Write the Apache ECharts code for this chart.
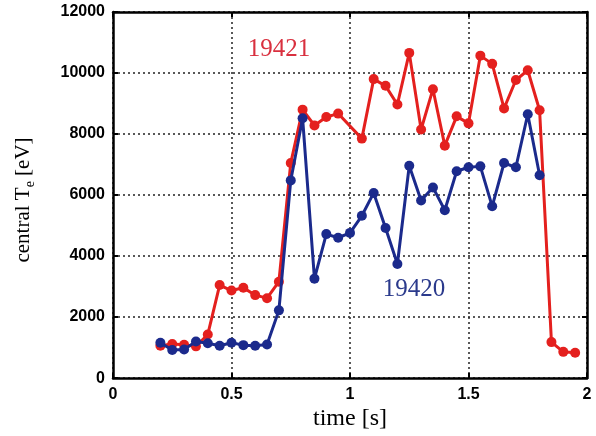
<!DOCTYPE html>
<html>
<head>
<meta charset="utf-8">
<script src="https://cdn.jsdelivr.net/npm/echarts@6/dist/echarts.min.js"></script>
<style>
html,body{margin:0;padding:0;background:#fff;}
#chart{width:596px;height:436px;}
</style>
</head>
<body>
<div id="chart"></div>
<script>
// Shot 19421 (red)
var timeRed = [0.2,0.25,0.3,0.35,0.4,0.45,0.5,0.55,0.6,0.65,0.7,0.75,0.8,0.85,0.9,0.95,1.05,1.1,1.15,1.2,1.25,1.3,1.35,1.4,1.45,1.5,1.55,1.6,1.65,1.7,1.75,1.8,1.85,1.9,1.95];
var teRed = [1060,1120,1090,1040,1430,3050,2870,2960,2720,2620,3160,7050,8800,8280,8560,8670,7850,9800,9580,8970,10660,8150,9470,7620,8580,8350,10570,10300,8840,9770,10090,8780,1180,860,830];
// Shot 19420 (blue)
var timeBlue = [0.2,0.25,0.3,0.35,0.4,0.45,0.5,0.55,0.6,0.65,0.7,0.75,0.8,0.85,0.9,0.95,1.0,1.05,1.1,1.15,1.2,1.25,1.3,1.35,1.4,1.45,1.5,1.55,1.6,1.65,1.7,1.75,1.8];
var teBlue = [1160,920,940,1200,1140,1060,1160,1080,1060,1100,2220,6480,8520,3260,4720,4600,4760,5320,6070,4920,3740,6960,5820,6250,5500,6780,6910,6940,5630,7050,6910,8650,6650];
// Tick labels
var xTicks = ['0','0.5','1','1.5','2'];
var yTicks = ['0','2000','4000','6000','8000','10000','12000'];
// Annotation labels
var labelRed = {text:'19421', t:0.70, v:10780};
var labelBlue = {text:'19420', t:1.27, v:2910};

function pairs(xs, ys){ return xs.map(function(x,i){ return [x, ys[i]]; }); }

var RED = '#e4201e', BLUE = '#1b2a8c';
var tickFont = {fontFamily:'Liberation Sans, Arial, sans-serif', fontWeight:'bold', fontSize:16, color:'#000'};
var serif = 'Liberation Serif, Times New Roman, serif';

var chart = echarts.init(document.getElementById('chart'), null, {renderer:'canvas'});
var frameLine = {show:true, onZero:false, lineStyle:{color:'#000', width:2.5}};
var inTick = {show:true, inside:true, length:5, lineStyle:{color:'#000', width:2}};

chart.setOption({
  backgroundColor:'#fff',
  animation:false,
  grid:{left:113, right:9, top:12, bottom:49, containLabel:false},
  graphic:[{
    type:'text', x:23, y:200, rotation:Math.PI/2,
    style:{
      text:'{a|central T}{s|e}{a| [eV]}', align:'center', verticalAlign:'middle',
      rich:{
        a:{fontFamily:serif, fontSize:21, fill:'#000', lineHeight:28, verticalAlign:'middle'},
        s:{fontFamily:serif, fontSize:14, fill:'#000', lineHeight:14, verticalAlign:'bottom'}
      }
    }
  }],
  xAxis:[{
    type:'value', min:0, max:2, interval:0.5, position:'bottom',
    axisLine:frameLine, axisTick:inTick,
    axisLabel:Object.assign({margin:8, formatter:function(v){ return xTicks[Math.round(v/0.5)]; }}, tickFont),
    splitLine:{show:true, lineStyle:{color:'#222', type:[2,3], width:1.5}},
    name:'time [s]', nameLocation:'middle', nameGap:23,
    nameTextStyle:{fontFamily:serif, fontSize:24, color:'#000'}
  },{
    type:'value', min:0, max:2, interval:0.5, position:'top',
    axisLine:frameLine, axisTick:inTick, axisLabel:{show:false}, splitLine:{show:false}
  }],
  yAxis:[{
    type:'value', min:0, max:12000, interval:2000, position:'left',
    axisLine:frameLine, axisTick:inTick,
    axisLabel:Object.assign({margin:8, formatter:function(v){ return yTicks[Math.round(v/2000)]; }}, tickFont),
    splitLine:{show:true, lineStyle:{color:'#222', type:[2,3], width:1.5}}
  },{
    type:'value', min:0, max:12000, interval:2000, position:'right',
    axisLine:frameLine, axisTick:inTick, axisLabel:{show:false}, splitLine:{show:false}
  }],
  series:[{
    name:'19421', type:'line', data:pairs(timeRed, teRed),
    symbol:'circle', symbolSize:10, showAllSymbol:true,
    lineStyle:{color:RED, width:3}, itemStyle:{color:RED},
    markPoint:{
      symbol:'circle', symbolSize:0,
      data:[{coord:[labelRed.t, labelRed.v], value:labelRed.text}],
      label:{show:true, position:'inside', formatter:labelRed.text, fontFamily:serif, fontSize:25, color:'#d9303f'}
    },
    z:2
  },{
    name:'19420', type:'line', data:pairs(timeBlue, teBlue),
    symbol:'circle', symbolSize:10, showAllSymbol:true,
    lineStyle:{color:BLUE, width:3}, itemStyle:{color:BLUE},
    markPoint:{
      symbol:'circle', symbolSize:0,
      data:[{coord:[labelBlue.t, labelBlue.v], value:labelBlue.text}],
      label:{show:true, position:'inside', formatter:labelBlue.text, fontFamily:serif, fontSize:25, color:'#2b3a8c'}
    },
    z:3
  }]
});
</script>
</body>
</html>
